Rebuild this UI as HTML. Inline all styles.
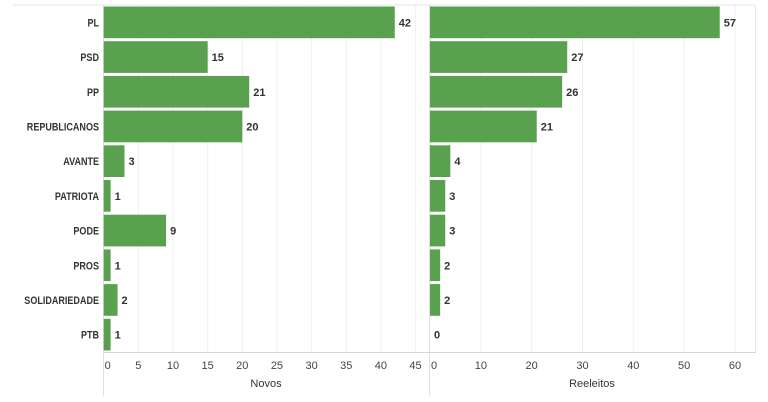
<!DOCTYPE html>
<html><head><meta charset="utf-8"><style>
body{margin:0;background:#fff;}
svg{display:block;font-family:"Liberation Sans",sans-serif;}
</style></head><body>
<svg width="768" height="402" viewBox="0 0 768 402" xmlns="http://www.w3.org/2000/svg">
<g id="g"></g>
</svg>
<script>
(function(){
const NS="http://www.w3.org/2000/svg";const g=document.getElementById('g');
function el(t,a,txt){const e=document.createElementNS(NS,t);for(const k in a)e.setAttribute(k,a[k]);if(txt!==undefined)e.textContent=String(txt);g.appendChild(e);return e;}
const parties=["PL","PSD","PP","REPUBLICANOS","AVANTE","PATRIOTA","PODE","PROS","SOLIDARIEDADE","PTB"];
const novos=[42,15,21,20,3,1,9,1,2,1];
const reel=[57,27,26,21,4,3,3,2,2,0];
const T0=5,pitch=34.7,B0=352;
const L0=103.7,Ls=6.93,R0=430,Rs=5.083;
for(let v=5;v<=45;v+=5)el('line',{x1:L0+v*Ls,x2:L0+v*Ls,y1:T0,y2:B0,stroke:'#efefef','stroke-width':1});
for(let v=10;v<=60;v+=10)el('line',{x1:R0+v*Rs,x2:R0+v*Rs,y1:T0,y2:B0,stroke:'#efefef','stroke-width':1});
el('line',{x1:13,x2:755,y1:5,y2:5,stroke:'#e6e6e6','stroke-width':1});
el('line',{x1:103.5,x2:103.5,y1:5,y2:396,stroke:'#e0e0e0','stroke-width':1});
el('line',{x1:429.5,x2:429.5,y1:5,y2:396,stroke:'#e0e0e0','stroke-width':1});
el('line',{x1:755.5,x2:755.5,y1:5,y2:352,stroke:'#e8e8e8','stroke-width':1});
el('line',{x1:103,x2:756,y1:352.5,y2:352.5,stroke:'#d6d6d6','stroke-width':1});
for(let i=0;i<10;i++){
 const y=T0+i*pitch;
 const t=el('text',{x:99,y:y+pitch/2+4,'text-anchor':'end','font-size':11,'font-weight':'bold',fill:'#333'},parties[i]);
 try{const L=t.getComputedTextLength();t.setAttribute('textLength',(L*0.82).toFixed(1));t.setAttribute('lengthAdjust','spacingAndGlyphs');}catch(e){}
 const w1=novos[i]*Ls;
 el('rect',{x:L0,y:y+1.5,width:w1,height:pitch-3,fill:'#59a14f'});
 el('text',{x:L0+w1+4,y:y+pitch/2+4,'font-size':11,'font-weight':'bold',fill:'#333'},novos[i]);
 const w2=reel[i]*Rs;
 if(w2>0)el('rect',{x:R0,y:y+1.5,width:w2,height:pitch-3,fill:'#59a14f'});
 el('text',{x:R0+w2+4,y:y+pitch/2+4,'font-size':11,'font-weight':'bold',fill:'#333'},reel[i]);
}
for(let v=0;v<=45;v+=5)el('text',{x:v==0?L0+4:L0+v*Ls,y:369,'text-anchor':'middle','font-size':11,fill:'#444'},v);
for(let v=0;v<=60;v+=10)el('text',{x:v==0?R0+4:R0+v*Rs,y:369,'text-anchor':'middle','font-size':11,fill:'#444'},v);
el('text',{x:266,y:387,'text-anchor':'middle','font-size':11,fill:'#333'},'Novos');
el('text',{x:592,y:387,'text-anchor':'middle','font-size':11,fill:'#333'},'Reeleitos');
})();
</script>
</body></html>
